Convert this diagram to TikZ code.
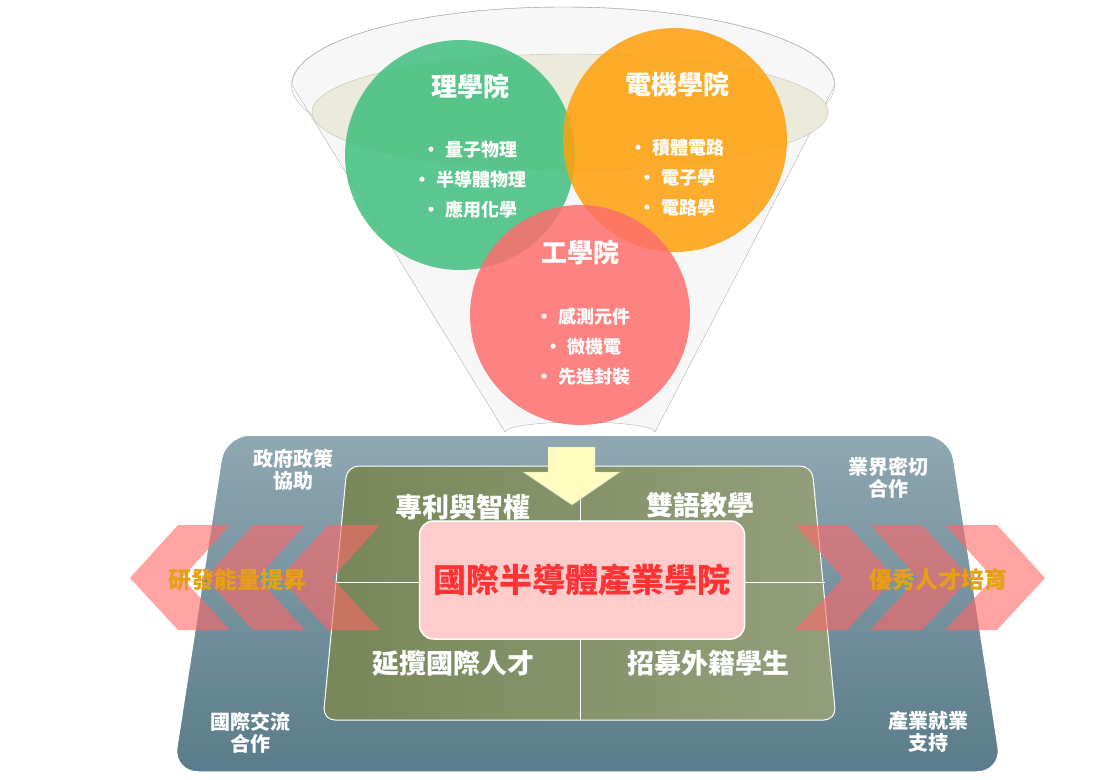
\documentclass[tikz,border=0pt]{standalone}
\usepackage{fontspec}
\setmainfont{Noto Sans CJK TC}
\usetikzlibrary{shapes.geometric}
\definecolor{cgreen}{RGB}{64,190,125}
\definecolor{corange}{RGB}{255,160,10}
\definecolor{cred}{RGB}{255,110,110}
\definecolor{cplat}{RGB}{95,130,145}
\definecolor{colive}{RGB}{120,135,90}
\definecolor{cgold}{RGB}{230,160,20}
\tikzset{
  circ/.style={circle,minimum size=#1,inner sep=0pt,fill opacity=0.85},
  head/.style={font=\fontsize{26}{28}\selectfont\bfseries,text=white},
  item/.style={font=\fontsize{18}{20}\selectfont\bfseries,text=white,align=center},
  corner/.style={font=\fontsize{20}{22}\selectfont\bfseries,text=white,align=center},
  quad/.style={font=\fontsize{27}{29}\selectfont\bfseries,text=white},
  chev/.style={fill=red!60,fill opacity=0.6,draw=none},
}
\begin{document}
\begin{tikzpicture}[x=1pt,y=-1pt]
\useasboundingbox (0,0) rectangle (1100,779);
% funnel
\fill[gray!10,fill opacity=0.6,draw=gray!60] (292,85) -- (505,432) arc[start angle=180,end angle=360,x radius=75,y radius=10] -- (835,85) arc[start angle=0,end angle=-180,x radius=271.5,y radius=78] -- cycle;
\draw[gray!60] (563,85) ellipse[x radius=271.5,y radius=78];
\fill[yellow!30!gray!25,draw=gray!50] (570,112) ellipse[x radius=258,y radius=58];
% platform
\shade[top color=cplat!70,bottom color=cplat!95!black,rounded corners=25,draw=white,line width=1.5pt]
  (225,435) -- (950,435) -- (1002,772) -- (173,772) -- cycle;
\shade[left color=colive,right color=colive!80,rounded corners=12,draw=white!60,line width=1pt]
  (347,466) -- (812,466) -- (836,720) -- (323,720) -- cycle;
\draw[white!60,line width=1pt] (580,466) -- (580,720);
\draw[white!60,line width=1pt] (337,582) -- (825,582);
% circles
\node[circ=230pt,fill=cgreen] (sci) at (460,155) {};
\node[circ=224pt,fill=corange] (eec) at (675,140) {};
\node[circ=220pt,fill=cred] (eng) at (580,315) {};
\node[head] at (470,86) {理學院};
\node[head] at (677,84) {電機學院};
\node[head] at (580,252) {工學院};
\node[item] at (470,180) {• 量子物理\\[10pt]• 半導體物理\\[10pt]• 應用化學};
\node[item] at (677,178) {• 積體電路\\[10pt]• 電子學\\[10pt]• 電路學};
\node[item] at (583,347) {• 感測元件\\[10pt]• 微機電\\[10pt]• 先進封裝};
% down arrow
\fill[yellow!25!white,draw=gray!40] (548,447) -- (595,447) -- (595,472) -- (620,472) -- (572,505) -- (523,472) -- (548,472) -- cycle;
% quadrants
\node[quad] at (463,507) {專利與智權};
\node[quad] at (700,505) {雙語教學};
\node[quad] at (453,663) {延攬國際人才};
\node[quad] at (708,663) {招募外籍學生};
% corner labels
\node[corner] at (293,470) {政府政策\\協助};
\node[corner] at (888,478) {業界密切\\合作};
\node[corner] at (250,733) {國際交流\\合作};
\node[corner] at (928,732) {產業就業\\支持};
% chevrons
\foreach \dx in {0,75,150}{
  \fill[chev] (130+\dx,578) -- (178+\dx,525) -- (230+\dx,525) -- (182+\dx,578) -- (230+\dx,630) -- (178+\dx,630) -- cycle;
  \fill[chev] (1045-\dx,578) -- (997-\dx,525) -- (945-\dx,525) -- (993-\dx,578) -- (945-\dx,630) -- (997-\dx,630) -- cycle;
}
% center
\node[rounded corners=14,fill=pink!80!white,draw=white,line width=1.5pt,minimum width=325pt,minimum height=118pt,font=\fontsize{33}{35}\selectfont\bfseries,text=red!80] (core) at (582,580) {國際半導體產業學院};
\node[font=\fontsize{23}{25}\selectfont\bfseries,text=cgold] (rd) at (237,580) {研發能量提昇};
\node[font=\fontsize{23}{25}\selectfont\bfseries,text=cgold] (tal) at (938,580) {優秀人才培育};
\end{tikzpicture}
\end{document}
